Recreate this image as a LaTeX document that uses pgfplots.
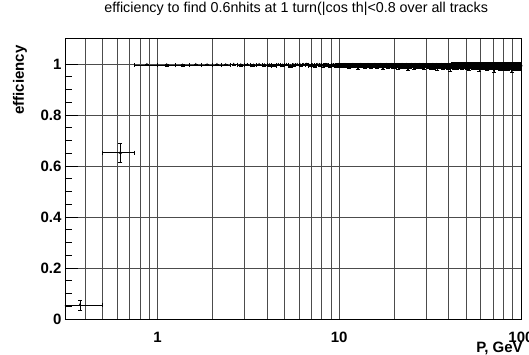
\documentclass[border=0pt]{standalone}
\usepackage{fontspec}
\setmainfont{Liberation Sans}
\usepackage{pgfplots}
\pgfplotsset{compat=1.18}
\pgfplotstableread[row sep=\\]{
x y e\\
0.375 0.055 0.020\\ 0.625 0.652 0.038\\ 0.875 0.997 0.003\\
1.125 0.996 0.003\\ 1.375 0.995 0.003\\ 1.625 0.997 0.002\\ 1.875 0.996 0.002\\
2.125 0.997 0.002\\ 2.375 0.996 0.002\\ 2.625 0.998 0.002\\ 2.875 0.996 0.003\\
3.125 0.997 0.002\\ 3.375 0.995 0.003\\ 3.625 0.997 0.003\\ 3.875 0.996 0.003\\
4.125 0.996 0.003\\ 4.375 0.994 0.004\\ 4.625 0.997 0.003\\ 4.875 0.995 0.003\\
5.125 0.997 0.003\\ 5.375 0.993 0.004\\ 5.625 0.996 0.003\\ 5.875 0.997 0.003\\
6.125 0.995 0.004\\ 6.375 0.997 0.003\\ 6.625 0.998 0.003\\ 6.875 0.994 0.004\\
7.125 0.996 0.004\\ 7.375 0.993 0.005\\ 7.625 0.997 0.003\\ 7.875 0.995 0.004\\
8.125 0.994 0.005\\ 8.375 0.997 0.004\\ 8.625 0.996 0.004\\ 8.875 0.991 0.005\\
9.125 0.996 0.004\\ 9.375 0.995 0.005\\ 9.625 0.993 0.005\\ 9.875 0.997 0.004\\
10.125 0.995 0.006\\ 10.375 0.993 0.007\\ 10.625 0.997 0.005\\ 10.875 0.994 0.006\\
11.125 0.996 0.006\\ 11.375 0.991 0.007\\ 11.625 0.995 0.006\\ 11.875 0.997 0.005\\
12.125 0.993 0.007\\ 12.375 0.996 0.006\\ 12.625 0.989 0.008\\ 12.875 0.995 0.006\\
13.125 0.997 0.005\\ 13.375 0.994 0.007\\ 13.625 0.996 0.006\\ 13.875 0.992 0.007\\
14.125 0.995 0.006\\ 14.375 0.997 0.006\\ 14.625 0.993 0.007\\ 14.875 0.990 0.008\\
15.125 0.996 0.006\\ 15.375 0.994 0.007\\ 15.625 0.997 0.006\\ 15.875 0.995 0.006\\
16.125 0.992 0.008\\ 16.375 0.996 0.006\\ 16.625 0.994 0.007\\ 16.875 0.997 0.006\\
17.125 0.995 0.007\\ 17.375 0.988 0.009\\ 17.625 0.996 0.006\\ 17.875 0.993 0.007\\
18.125 0.997 0.006\\ 18.375 0.995 0.007\\ 18.625 0.992 0.008\\ 18.875 0.996 0.006\\
19.125 0.994 0.007\\ 19.375 0.997 0.006\\ 19.625 0.995 0.007\\ 19.875 0.991 0.008\\
20.125 0.996 0.007\\ 20.375 0.993 0.008\\ 20.625 0.997 0.006\\ 20.875 0.994 0.007\\
21.125 0.990 0.009\\ 21.375 0.995 0.007\\ 21.625 0.996 0.007\\ 21.875 0.993 0.008\\
22.125 0.997 0.006\\ 22.375 0.994 0.008\\ 22.625 0.991 0.009\\ 22.875 0.996 0.007\\
23.125 0.995 0.007\\ 23.375 0.997 0.006\\ 23.625 0.993 0.008\\ 23.875 0.986 0.010\\
24.125 0.996 0.007\\ 24.375 0.992 0.008\\ 24.625 0.995 0.007\\ 24.875 0.997 0.006\\
25.125 0.994 0.008\\ 25.375 0.996 0.007\\ 25.625 0.990 0.009\\ 25.875 0.995 0.007\\
26.125 0.997 0.006\\ 26.375 0.993 0.008\\ 26.625 0.996 0.007\\ 26.875 0.994 0.008\\
27.125 0.992 0.009\\ 27.375 0.995 0.007\\ 27.625 0.997 0.006\\ 27.875 0.991 0.009\\
28.125 0.996 0.007\\ 28.375 0.994 0.008\\ 28.625 0.993 0.008\\ 28.875 0.997 0.006\\
29.125 0.995 0.008\\ 29.375 0.989 0.010\\ 29.625 0.996 0.007\\ 29.875 0.994 0.008\\
30.125 0.997 0.007\\ 30.375 0.995 0.008\\ 30.625 0.992 0.009\\ 30.875 0.996 0.007\\
31.125 0.993 0.009\\ 31.375 0.996 0.007\\ 31.625 0.995 0.008\\ 31.875 0.990 0.010\\
32.125 0.996 0.008\\ 32.375 0.994 0.008\\ 32.625 0.997 0.007\\ 32.875 0.993 0.009\\
33.125 0.995 0.008\\ 33.375 0.991 0.010\\ 33.625 0.996 0.007\\ 33.875 0.994 0.009\\
34.125 0.997 0.007\\ 34.375 0.993 0.009\\ 34.625 0.988 0.011\\ 34.875 0.995 0.008\\
35.125 0.994 0.009\\ 35.375 0.996 0.008\\ 35.625 0.995 0.008\\ 35.875 0.992 0.009\\
36.125 0.996 0.008\\ 36.375 0.997 0.007\\ 36.625 0.993 0.009\\ 36.875 0.995 0.008\\
37.125 0.991 0.010\\ 37.375 0.995 0.008\\ 37.625 0.996 0.008\\ 37.875 0.994 0.009\\
38.125 0.997 0.007\\ 38.375 0.992 0.010\\ 38.625 0.995 0.008\\ 38.875 0.996 0.008\\
39.125 0.994 0.009\\ 39.375 0.996 0.008\\ 39.625 0.990 0.010\\ 39.875 0.995 0.009\\
40.125 0.996 0.008\\ 40.375 0.993 0.009\\ 40.625 0.997 0.007\\ 40.875 0.985 0.012\\
41.125 0.995 0.009\\ 41.375 0.996 0.008\\ 41.625 0.992 0.010\\ 41.875 0.994 0.009\\
42.125 0.997 0.008\\ 42.375 0.994 0.009\\ 42.625 0.995 0.009\\ 42.875 0.991 0.010\\
43.125 0.993 0.010\\ 43.375 0.996 0.008\\ 43.625 0.997 0.008\\ 43.875 0.995 0.009\\
44.125 0.996 0.009\\ 44.375 0.990 0.011\\ 44.625 0.994 0.009\\ 44.875 0.996 0.008\\
45.125 0.995 0.009\\ 45.375 0.997 0.008\\ 45.625 0.993 0.010\\ 45.875 0.994 0.009\\
46.125 0.992 0.010\\ 46.375 0.995 0.009\\ 46.625 0.996 0.008\\ 46.875 0.997 0.008\\
47.125 0.996 0.009\\ 47.375 0.993 0.010\\ 47.625 0.989 0.011\\ 47.875 0.995 0.009\\
48.125 0.994 0.009\\ 48.375 0.996 0.009\\ 48.625 0.995 0.009\\ 48.875 0.992 0.010\\
49.125 0.997 0.008\\ 49.375 0.994 0.010\\ 49.625 0.996 0.009\\ 49.875 0.993 0.010\\
50.125 0.995 0.009\\ 50.375 0.991 0.011\\ 50.625 0.997 0.008\\ 50.875 0.996 0.009\\
51.125 0.993 0.010\\ 51.375 0.996 0.009\\ 51.625 0.994 0.010\\ 51.875 0.987 0.012\\
52.125 0.996 0.009\\ 52.375 0.995 0.009\\ 52.625 0.992 0.010\\ 52.875 0.997 0.008\\
53.125 0.994 0.010\\ 53.375 0.997 0.008\\ 53.625 0.995 0.009\\ 53.875 0.993 0.010\\
54.125 0.990 0.011\\ 54.375 0.994 0.010\\ 54.625 0.996 0.009\\ 54.875 0.995 0.009\\
55.125 0.997 0.008\\ 55.375 0.993 0.010\\ 55.625 0.994 0.010\\ 55.875 0.996 0.009\\
56.125 0.995 0.009\\ 56.375 0.996 0.009\\ 56.625 0.991 0.011\\ 56.875 0.994 0.010\\
57.125 0.993 0.010\\ 57.375 0.997 0.008\\ 57.625 0.995 0.010\\ 57.875 0.992 0.011\\
58.125 0.996 0.009\\ 58.375 0.994 0.010\\ 58.625 0.997 0.009\\ 58.875 0.983 0.012\\
59.125 0.995 0.010\\ 59.375 0.992 0.011\\ 59.625 0.996 0.009\\ 59.875 0.994 0.010\\
60.125 0.997 0.009\\ 60.375 0.995 0.010\\ 60.625 0.993 0.010\\ 60.875 0.996 0.009\\
61.125 0.991 0.011\\ 61.375 0.996 0.009\\ 61.625 0.994 0.010\\ 61.875 0.995 0.010\\
62.125 0.996 0.009\\ 62.375 0.993 0.011\\ 62.625 0.997 0.009\\ 62.875 0.992 0.011\\
63.125 0.994 0.010\\ 63.375 0.995 0.010\\ 63.625 0.990 0.012\\ 63.875 0.996 0.009\\
64.125 0.997 0.009\\ 64.375 0.994 0.010\\ 64.625 0.996 0.010\\ 64.875 0.993 0.011\\
65.125 0.995 0.010\\ 65.375 0.989 0.012\\ 65.625 0.995 0.010\\ 65.875 0.997 0.009\\
66.125 0.993 0.011\\ 66.375 0.996 0.010\\ 66.625 0.992 0.011\\ 66.875 0.994 0.010\\
67.125 0.996 0.010\\ 67.375 0.995 0.010\\ 67.625 0.997 0.009\\ 67.875 0.991 0.012\\
68.125 0.994 0.010\\ 68.375 0.993 0.011\\ 68.625 0.996 0.010\\ 68.875 0.995 0.010\\
69.125 0.997 0.009\\ 69.375 0.990 0.012\\ 69.625 0.994 0.011\\ 69.875 0.996 0.010\\
70.125 0.995 0.010\\ 70.375 0.996 0.010\\ 70.625 0.993 0.011\\ 70.875 0.982 0.013\\
71.125 0.992 0.012\\ 71.375 0.995 0.010\\ 71.625 0.997 0.009\\ 71.875 0.994 0.011\\
72.125 0.996 0.010\\ 72.375 0.994 0.011\\ 72.625 0.991 0.012\\ 72.875 0.995 0.010\\
73.125 0.995 0.011\\ 73.375 0.997 0.009\\ 73.625 0.996 0.010\\ 73.875 0.993 0.011\\
74.125 0.990 0.012\\ 74.375 0.995 0.011\\ 74.625 0.994 0.011\\ 74.875 0.997 0.010\\
75.125 0.996 0.010\\ 75.375 0.992 0.012\\ 75.625 0.995 0.011\\ 75.875 0.994 0.011\\
76.125 0.997 0.010\\ 76.375 0.995 0.011\\ 76.625 0.989 0.013\\ 76.875 0.996 0.010\\
77.125 0.993 0.012\\ 77.375 0.996 0.010\\ 77.625 0.994 0.011\\ 77.875 0.995 0.011\\
78.125 0.995 0.011\\ 78.375 0.991 0.012\\ 78.625 0.997 0.010\\ 78.875 0.993 0.012\\
79.125 0.996 0.010\\ 79.375 0.994 0.011\\ 79.625 0.995 0.011\\ 79.875 0.990 0.013\\
80.125 0.994 0.011\\ 80.375 0.997 0.010\\ 80.625 0.993 0.012\\ 80.875 0.996 0.011\\
81.125 0.995 0.011\\ 81.375 0.992 0.012\\ 81.625 0.996 0.011\\ 81.875 0.994 0.011\\
82.125 0.997 0.010\\ 82.375 0.995 0.011\\ 82.625 0.988 0.013\\ 82.875 0.995 0.011\\
83.125 0.993 0.012\\ 83.375 0.996 0.011\\ 83.625 0.994 0.012\\ 83.875 0.997 0.010\\
84.125 0.996 0.011\\ 84.375 0.990 0.013\\ 84.625 0.995 0.011\\ 84.875 0.993 0.012\\
85.125 0.994 0.012\\ 85.375 0.997 0.010\\ 85.625 0.996 0.011\\ 85.875 0.992 0.012\\
86.125 0.995 0.011\\ 86.375 0.994 0.012\\ 86.625 0.991 0.013\\ 86.875 0.996 0.011\\
87.125 0.997 0.010\\ 87.375 0.993 0.012\\ 87.625 0.995 0.012\\ 87.875 0.994 0.012\\
88.125 0.992 0.013\\ 88.375 0.996 0.011\\ 88.625 0.997 0.011\\ 88.875 0.980 0.014\\
89.125 0.995 0.012\\ 89.375 0.994 0.012\\ 89.625 0.993 0.012\\ 89.875 0.996 0.011\\
90.125 0.996 0.011\\ 90.375 0.991 0.013\\ 90.625 0.995 0.012\\ 90.875 0.997 0.011\\
91.125 0.994 0.012\\ 91.375 0.996 0.012\\ 91.625 0.990 0.013\\ 91.875 0.995 0.012\\
92.125 0.997 0.011\\ 92.375 0.993 0.013\\ 92.625 0.996 0.012\\ 92.875 0.994 0.012\\
93.125 0.995 0.012\\ 93.375 0.997 0.011\\ 93.625 0.992 0.013\\ 93.875 0.993 0.013\\
94.125 0.989 0.014\\ 94.375 0.995 0.012\\ 94.625 0.996 0.012\\ 94.875 0.997 0.011\\
95.125 0.996 0.012\\ 95.375 0.994 0.013\\ 95.625 0.995 0.012\\ 95.875 0.991 0.013\\
96.125 0.993 0.013\\ 96.375 0.996 0.012\\ 96.625 0.997 0.011\\ 96.875 0.994 0.013\\
97.125 0.995 0.012\\ 97.375 0.990 0.014\\ 97.625 0.994 0.013\\ 97.875 0.996 0.012\\
98.125 0.997 0.011\\ 98.375 0.995 0.013\\ 98.625 0.993 0.013\\ 98.875 0.995 0.012\\
99.125 0.994 0.013\\ 99.375 0.996 0.012\\ 99.625 0.992 0.014\\ 99.875 0.997 0.011\\
}\effdata
\begin{document}
\begin{tikzpicture}
\useasboundingbox (-65pt,-36pt) rectangle (464pt,319pt);
\begin{axis}[
  at={(0,0)}, anchor=south west,
  scale only axis, width=456pt, height=280.5pt,
  xmode=log, log basis x=10,
  xmin=0.31, xmax=100, ymin=0, ymax=1.1,
  xtick={1,10,100}, xticklabels={1,10,100},
  minor xtick={0.4,0.5,0.6,0.7,0.8,0.9,2,3,4,5,6,7,8,9,20,30,40,50,60,70,80,90},
  ytick={0,0.2,0.4,0.6,0.8,1}, yticklabels={0,0.2,0.4,0.6,0.8,1},
  minor y tick num=3,
  xmajorgrids, xminorgrids, ymajorgrids,
  major grid style={black!70, line width=0.5pt},
  minor grid style={black!70, line width=0.5pt},
  tick align=inside, xtick pos=bottom, ytick pos=left,
  major tick length=13pt, minor tick length=7pt,
  xtick style={draw=none},
  ytick style={black, line width=0.6pt},
  axis line style={black, line width=0.7pt},
  /pgf/number format/assume math mode=true,
  ticklabel style={font=\bfseries\fontsize{15}{15}\selectfont},
  xticklabel style={yshift=-9.5pt},
  title={efficiency to find 0.6nhits at 1 turn(|cos th|<0.8 over all tracks},
  title style={font=\fontsize{14.3}{16}\selectfont, at={(axis description cs:0.507,1)}, anchor=center, yshift=23.5pt},
  ylabel={efficiency},
  ylabel style={font=\bfseries\fontsize{15}{15}\selectfont, at={(axis description cs:-0.0987,0.9875)}, anchor=east},
  xlabel={P, GeV},
  xlabel style={font=\bfseries\fontsize{15}{15}\selectfont, at={(axis description cs:1.0116,0)}, anchor=north east, yshift=-19.7pt},
]
\addplot[black, only marks, mark=triangle*, mark size=1.5pt,
  error bars/.cd, x dir=both, x fixed=0.125, y dir=both, y explicit,
  error bar style={black, line width=0.5pt},
  error mark options={black, line width=0.5pt, mark size=2pt, rotate=90}]
  table[x=x, y=y, y error=e] {\effdata};
\end{axis}
\end{tikzpicture}
\end{document}
